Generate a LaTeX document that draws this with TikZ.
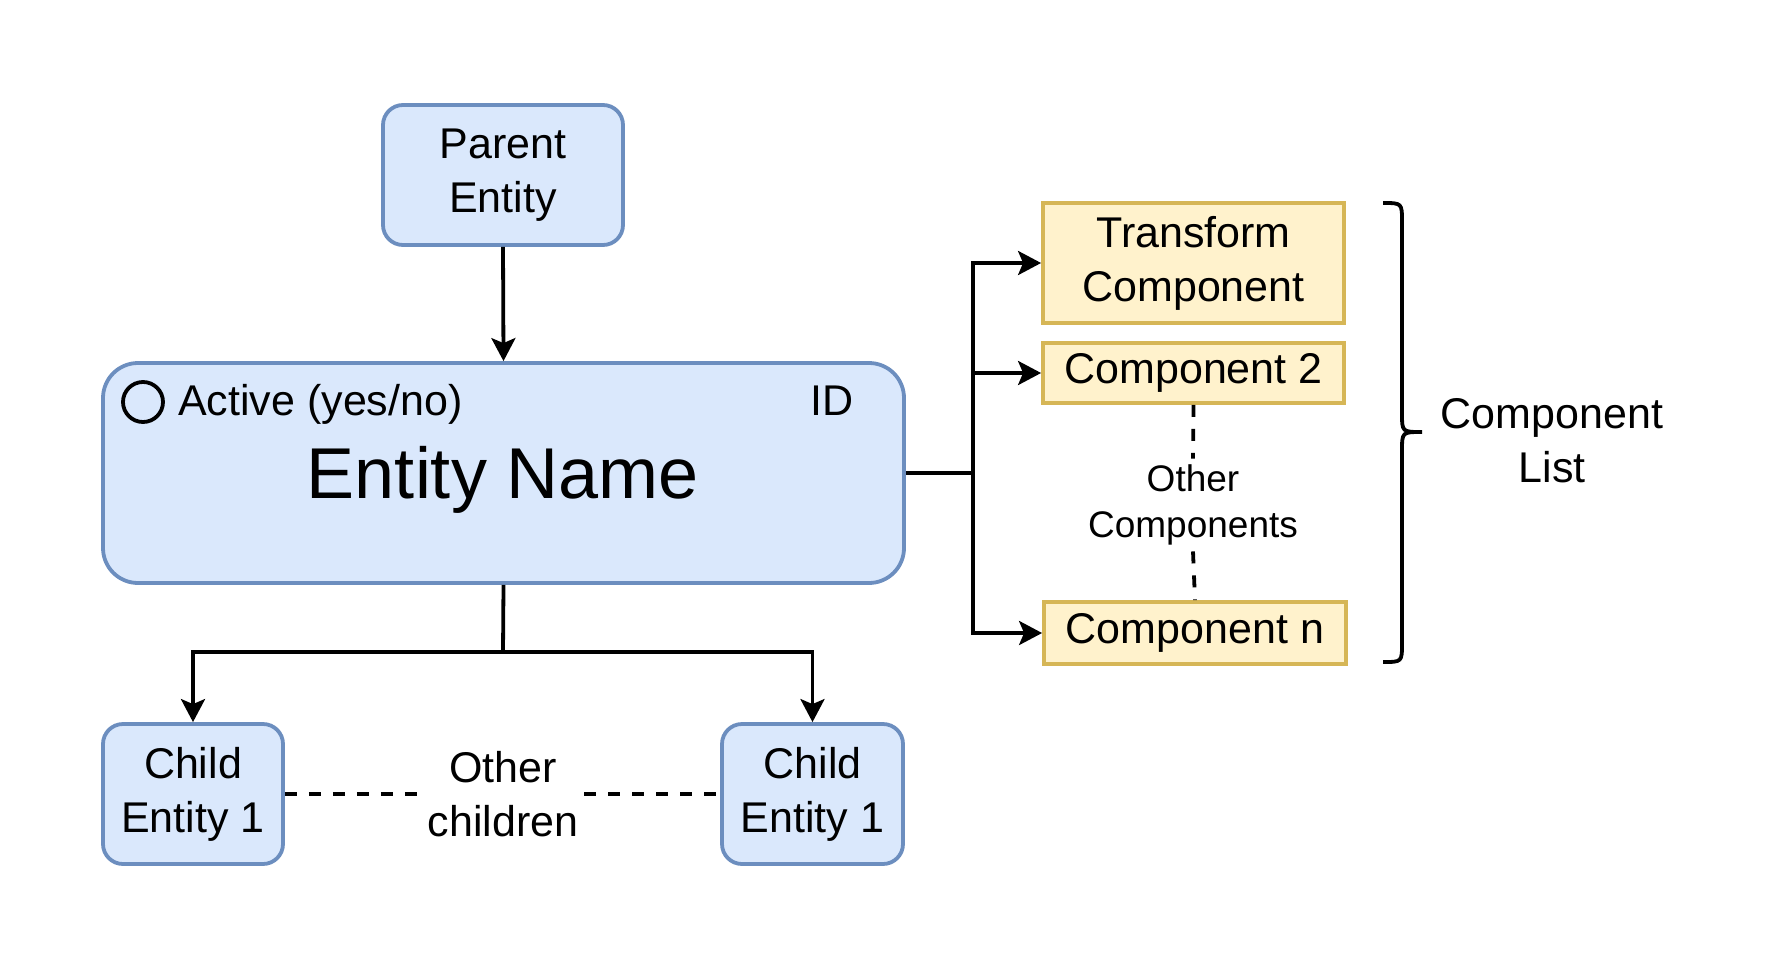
\documentclass[tikz,border=0pt]{standalone}
\usepackage{fontspec}
\setmainfont{Liberation Sans}
\usetikzlibrary{arrows.meta}
\definecolor{entityfill}{HTML}{DAE8FC}
\definecolor{entityline}{HTML}{6C8EBF}
\definecolor{compfill}{HTML}{FFF2CC}
\definecolor{compline}{HTML}{D6B656}

\begin{document}
\begin{tikzpicture}[x=1pt, y=-1pt,
        entity/.style={draw=entityline, fill=entityfill, line width=3.8pt, rounded corners=20pt,
            align=center, inner sep=0pt, font=\fontsize{43}{54}\selectfont},
        comp/.style={draw=compline, fill=compfill, line width=3.8pt,
            align=center, inner sep=0pt, font=\fontsize{43}{54}\selectfont},
        label/.style={align=center, font=\fontsize{43}{54}\selectfont},
        link/.style={line width=3.8pt},
        arrow/.style={link, -{Stealth[length=23pt, width=24pt, inset=5pt]}},
        dashlink/.style={link, dash pattern=on 12pt off 12pt}]
            \useasboundingbox (0, 0) rectangle (1766, 964);

            \node[entity, minimum width=240pt, minimum height=140pt] (parent) at (503, 175) {Parent\\Entity};
            \node[entity, rounded corners=35pt, minimum width=801pt, minimum height=220pt] (entity) at (503.5, 473) {};
            \node[anchor=base, inner sep=0pt, font=\fontsize{72}{86}\selectfont] (name) at (503, 498) {Entity Name};
            \node[circle, draw, line width=3.8pt, minimum size=40pt, inner sep=0pt] (radio) at (143, 402) {};
            \node[anchor=base west, inner sep=0pt, font=\fontsize{43}{54}\selectfont] (active) at (178, 415) {Active (yes/no)};
            \node[anchor=base, inner sep=0pt, font=\fontsize{43}{54}\selectfont] (id) at (832, 415) {ID};

            \node[entity, minimum width=180pt, minimum height=140pt] (child1) at (193, 794) {Child\\Entity 1};
            \node[entity, minimum width=181pt, minimum height=140pt] (child2) at (812.5, 794) {Child\\Entity 1};
            \node[label, inner sep=0pt, minimum width=162pt, minimum height=100pt] (others) at (503, 794) {Other\\children};

            \node[comp, minimum width=301pt, minimum height=120pt] (transform) at (1193.5, 263) {Transform\\Component};
            \node[comp, minimum width=301pt, minimum height=60pt] (comp2) at (1193.5, 373) {Component 2};
            \node[comp, minimum width=302pt, minimum height=62pt] (compn) at (1195, 633) {Component n};
            \node[align=center, inner sep=6pt, font=\fontsize{37}{46}\selectfont] (othercomps) at (1193, 505) {Other\\Components};
            \node[label] (listlabel) at (1552, 441) {Component\\List};

            \coordinate (split) at (973, 473);
            \coordinate (fork) at (503, 652);

            \draw[arrow] (parent.south) -- (entity.north);
            \draw[link] (entity.east) -- (split);
            \draw[arrow] (split) |- (transform.west);
            \draw[arrow] (split) |- (comp2.west);
            \draw[arrow] (split) |- (compn.west);
            \draw[link] (entity.south) -- (fork);
            \draw[arrow] (fork) -| (child1.north);
            \draw[arrow] (fork) -| (child2.north);

            \draw[dashlink] (child1.east) -- (others.west);
            \draw[dashlink] (others.east) -- (child2.west);
            \draw[dashlink] (comp2.south) -- (othercomps.north);
            \draw[dashlink] (othercomps.south) -- (compn.north);

            % brace round the component list
            \draw[link] (1383, 203) .. controls (1402, 203) .. (1402, 222) -- (1402, 413)
                .. controls (1402, 432) .. (1422, 432)
                .. controls (1402, 432) .. (1402, 451) -- (1402, 643)
                .. controls (1402, 662) .. (1383, 662);
        \end{tikzpicture}
\end{document}
